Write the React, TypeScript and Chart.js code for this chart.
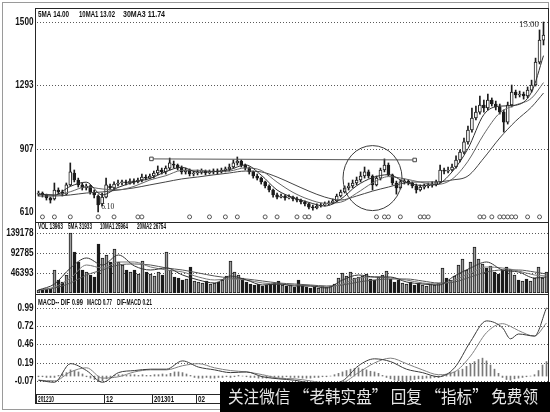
import React, { useEffect, useRef } from 'react';
import { Chart, registerables, LinearScale } from 'chart.js';

Chart.register(...registerables);

// ---------------- data ----------------
const OPEN = [6.94, 6.99, 6.90, 6.76, 6.71, 7.13, 7.04, 6.94, 7.37, 7.93,
  7.60, 7.37, 7.23, 7.32, 7.04, 6.85, 6.48, 6.80, 7.32, 7.23,
  7.41, 7.46, 7.51, 7.46, 7.55, 7.51, 7.60, 7.74, 7.69, 7.79,
  7.93, 8.07, 7.98, 8.16, 8.35, 8.30, 8.16, 7.98, 8.07, 7.88,
  7.93, 7.98, 8.02, 7.93, 7.98, 8.02, 7.98, 8.07, 8.12, 8.21,
  8.40, 8.49, 8.30, 8.16, 7.98, 7.79, 7.69, 7.51, 7.32, 7.13,
  6.90, 6.80, 6.85, 6.76, 6.80, 6.71, 6.66, 6.57, 6.48, 6.33,
  6.29, 6.38, 6.43, 6.48, 6.52, 6.62, 6.85, 7.04, 7.23, 7.32,
  7.46, 7.60, 7.79, 7.98, 7.79, 7.37, 7.69, 8.07, 8.30, 7.84,
  7.46, 7.23, 7.51, 7.55, 7.46, 7.32, 7.13, 7.27, 7.32, 7.37,
  7.41, 7.51, 8.07, 8.02, 8.07, 8.21, 8.54, 8.91, 9.48, 10.21,
  10.94, 11.30, 11.73, 11.55, 12.03, 11.79, 11.61, 11.30, 10.69, 11.73,
  12.52, 12.34, 12.40, 12.28, 12.64, 12.94, 13.69, 14.41];
const CLOSE = [6.99, 6.90, 6.76, 6.66, 7.13, 7.04, 6.94, 7.37, 7.98, 7.60,
  7.37, 7.23, 7.32, 7.04, 6.90, 6.43, 6.80, 7.37, 7.23, 7.41,
  7.46, 7.51, 7.46, 7.55, 7.51, 7.60, 7.74, 7.69, 7.79, 7.93,
  8.07, 7.98, 8.16, 8.40, 8.30, 8.16, 7.98, 8.07, 7.88, 7.93,
  7.98, 8.02, 7.93, 7.98, 8.02, 7.98, 8.07, 8.12, 8.21, 8.40,
  8.49, 8.30, 8.16, 7.98, 7.79, 7.69, 7.51, 7.32, 7.13, 6.90,
  6.80, 6.85, 6.76, 6.80, 6.71, 6.66, 6.57, 6.48, 6.33, 6.29,
  6.38, 6.43, 6.48, 6.52, 6.62, 6.85, 7.04, 7.23, 7.32, 7.46,
  7.60, 7.79, 7.98, 7.79, 7.37, 7.69, 8.07, 8.30, 7.84, 7.46,
  7.23, 7.51, 7.55, 7.46, 7.32, 7.13, 7.27, 7.32, 7.37, 7.41,
  7.51, 8.07, 8.02, 8.07, 8.21, 8.54, 8.91, 9.48, 10.21, 10.94,
  11.30, 11.73, 11.55, 12.03, 11.79, 11.61, 11.30, 10.69, 11.73, 12.52,
  12.34, 12.40, 12.28, 12.64, 12.94, 13.69, 14.41, 14.57];
const HIGH = [7.08, 7.04, 6.94, 6.80, 7.46, 7.23, 7.13, 7.46, 8.40, 8.07,
  7.69, 7.46, 7.41, 7.37, 7.13, 6.90, 6.99, 7.69, 7.41, 7.51,
  7.60, 7.60, 7.60, 7.65, 7.65, 7.69, 7.88, 7.84, 7.88, 8.02,
  8.26, 8.16, 8.26, 8.63, 8.49, 8.35, 8.26, 8.16, 8.12, 8.02,
  8.07, 8.12, 8.07, 8.07, 8.12, 8.12, 8.16, 8.21, 8.35, 8.54,
  8.68, 8.54, 8.35, 8.21, 8.02, 7.88, 7.74, 7.55, 7.37, 7.18,
  6.99, 6.94, 6.90, 6.90, 6.85, 6.80, 6.71, 6.62, 6.52, 6.43,
  6.48, 6.52, 6.57, 6.62, 6.71, 6.94, 7.13, 7.32, 7.46, 7.60,
  7.74, 7.98, 8.21, 8.07, 7.84, 7.79, 8.16, 8.59, 8.40, 7.88,
  7.55, 7.60, 7.65, 7.60, 7.51, 7.41, 7.37, 7.41, 7.46, 7.51,
  7.60, 8.30, 8.16, 8.21, 8.35, 8.73, 9.01, 9.72, 10.45, 11.55,
  11.67, 12.28, 12.03, 12.40, 12.16, 11.97, 11.79, 11.43, 11.91, 12.94,
  12.64, 12.58, 12.52, 12.83, 13.10, 13.82, 14.74, 15.00];
const LOW = [6.85, 6.80, 6.66, 6.52, 6.66, 6.94, 6.85, 6.90, 7.32, 7.51,
  7.27, 7.13, 7.13, 6.94, 6.76, 6.10, 6.38, 6.76, 7.13, 7.13,
  7.32, 7.37, 7.37, 7.41, 7.41, 7.46, 7.51, 7.60, 7.65, 7.69,
  7.84, 7.88, 7.88, 8.07, 8.16, 8.07, 7.88, 7.88, 7.79, 7.79,
  7.84, 7.88, 7.84, 7.88, 7.88, 7.88, 7.93, 7.98, 8.02, 8.16,
  8.30, 8.21, 8.07, 7.88, 7.69, 7.60, 7.41, 7.23, 7.04, 6.80,
  6.71, 6.76, 6.66, 6.71, 6.62, 6.57, 6.48, 6.38, 6.24, 6.19,
  6.24, 6.33, 6.38, 6.43, 6.48, 6.57, 6.80, 6.99, 7.13, 7.23,
  7.37, 7.51, 7.69, 7.69, 7.13, 7.32, 7.60, 7.98, 7.79, 7.37,
  6.94, 7.18, 7.41, 7.37, 7.23, 6.99, 7.08, 7.18, 7.23, 7.27,
  7.32, 7.46, 7.88, 7.93, 8.02, 8.16, 8.45, 8.82, 9.35, 10.08,
  10.82, 11.18, 11.30, 11.43, 11.67, 11.43, 11.18, 10.08, 10.57, 11.61,
  12.16, 12.22, 12.09, 12.16, 12.52, 12.89, 13.63, 14.25];
const VOLUME = [6960, 6960, 9280, 9280, 53360, 30160, 25520, 41760, 139200, 95120,
  71920, 53360, 48720, 41760, 37120, 113680, 81200, 88160, 71920, 102080,
  71920, 64960, 53360, 48720, 53360, 44080, 74240, 48720, 44080, 39440,
  48720, 41760, 95120, 53360, 37120, 34800, 30160, 32480, 60320, 27840,
  25520, 23200, 27840, 20880, 23200, 25520, 30160, 39440, 74240, 48720,
  41760, 34800, 25520, 20880, 18560, 20880, 16240, 18560, 20880, 23200,
  27840, 18560, 16240, 18560, 13920, 30160, 16240, 13920, 11600, 13920,
  11600, 16240, 13920, 16240, 20880, 34800, 46400, 39440, 48720, 34800,
  37120, 39440, 44080, 32480, 30160, 37120, 41760, 51040, 32480, 25520,
  30160, 23200, 20880, 25520, 18560, 23200, 18560, 16240, 20880, 18560,
  23200, 58000, 34800, 30160, 39440, 64960, 78880, 53360, 71920, 106720,
  78880, 67280, 58000, 62640, 48720, 44080, 53360, 60320, 55680, 41760,
  30160, 27840, 32480, 27840, 34800, 60320, 34800, 48720];
const MACD_HIST = [-0.01, -0.01, -0.02, -0.02, -0.02, 0.01, 0.03, 0.05,
  0.09, 0.08, 0.06, 0.03, -0.01, -0.03, -0.05, -0.08,
  -0.07, -0.04, -0.02, 0.01, 0.02, 0.02, 0.01, 0.02,
  0.02, 0.01, 0.02, 0.01, 0.01, 0.02, 0.02, 0.03,
  0.02, 0.04, 0.06, 0.06, 0.05, 0.03, 0.01, -0.02,
  -0.03, -0.03, -0.02, -0.03, -0.03, -0.02, -0.02, -0.01,
  -0.02, -0.01, 0.01, 0.00, -0.01, -0.02, -0.02, -0.03,
  -0.03, -0.03, -0.02, -0.02, -0.02, -0.02, -0.01, -0.02,
  -0.02, -0.02, -0.03, -0.03, -0.03, -0.02, -0.02, -0.01,
  -0.01, 0.00, 0.02, 0.04, 0.06, 0.08, 0.10, 0.11,
  0.12, 0.10, 0.09, 0.07, 0.06, 0.04, 0.01, -0.02,
  -0.04, -0.06, -0.07, -0.08, -0.07, -0.06, -0.05, -0.04,
  -0.04, -0.03, -0.03, -0.02, -0.02, 0.01, 0.03, 0.05,
  0.06, 0.08, 0.10, 0.14, 0.18, 0.21, 0.24, 0.26,
  0.22, 0.16, 0.10, 0.04, -0.02, -0.05, -0.06, -0.04,
  -0.03, -0.02, -0.01, 0.00, 0.02, 0.08, 0.16, 0.21];

// moving-average lines, read at these candle positions
const MA_IDX = [0, 4, 8, 12, 16, 20, 24, 28, 32, 36, 40, 44, 48, 52, 56, 60, 64, 68, 72, 76, 80, 84, 88, 92, 96, 100, 104, 108, 112, 116, 120, 124, 127];
const MA5 = [6.94, 6.89, 7.30, 7.50, 6.90, 7.25, 7.50, 7.67, 7.99, 8.20, 7.97, 7.99, 8.08, 8.31, 7.83, 7.13, 6.78, 6.55, 6.38, 6.70, 7.33, 7.71, 7.85, 7.52, 7.35, 7.38, 7.98, 9.07, 11.15, 11.66, 11.72, 12.52, 13.90];
const MA10 = [6.94, 6.90, 7.05, 7.28, 7.18, 7.14, 7.30, 7.60, 7.80, 8.05, 8.06, 8.00, 8.02, 8.17, 8.05, 7.50, 7.02, 6.69, 6.51, 6.56, 6.98, 7.46, 7.76, 7.66, 7.50, 7.39, 7.64, 8.48, 9.95, 11.25, 11.73, 12.15, 13.02];
const MA30 = [6.85, 6.85, 6.90, 6.99, 7.04, 7.13, 7.23, 7.37, 7.51, 7.65, 7.74, 7.84, 7.93, 8.02, 7.98, 7.74, 7.41, 7.08, 6.80, 6.66, 6.85, 7.08, 7.27, 7.46, 7.51, 7.51, 7.60, 7.79, 8.63, 9.72, 10.75, 11.61, 12.46];
const VOL_MA5 = [6960, 20880, 58000, 81200, 64960, 88160, 62640, 53360, 58000, 41760, 30160, 23200, 39440, 30160, 18560, 20880, 16240, 16240, 11600, 30160, 41760, 37120, 37120, 25520, 20880, 18560, 39440, 58000, 71920, 53360, 48720, 34800, 37120];
const VOL_MA10 = [6960, 13920, 34800, 64960, 58000, 71920, 71920, 60320, 53360, 48720, 37120, 30160, 32480, 30160, 23200, 20880, 18560, 16240, 13920, 20880, 34800, 37120, 34800, 30160, 23200, 20880, 30160, 46400, 60320, 58000, 51040, 41760, 39440];
const VOL_MA20 = [6960, 11600, 23200, 41760, 53360, 64960, 67280, 64960, 58000, 53360, 46400, 39440, 34800, 32480, 27840, 23200, 20880, 18560, 16240, 18560, 25520, 30160, 32480, 32480, 27840, 23200, 25520, 37120, 48720, 53360, 53360, 48720, 44080];
const MACD_IDX = [0, 4, 8, 12, 16, 20, 24, 28, 32, 36, 40, 44, 48, 52, 56, 60, 64, 68, 72, 76, 80, 84, 88, 92, 96, 100, 104, 108, 112, 116, 118, 120, 124, 127];
const DIF = [-0.06, -0.09, 0.18, 0.08, -0.09, 0.05, 0.08, 0.10, 0.10, 0.22, 0.13, 0.09, 0.05, 0.06, -0.01, -0.04, -0.06, -0.10, -0.11, -0.07, 0.15, 0.25, 0.21, 0.10, 0.05, -0.01, 0.12, 0.50, 0.80, 0.70, 0.54, 0.61, 0.58, 0.99];
const DEA = [-0.06, -0.07, 0.06, 0.12, -0.03, -0.01, 0.06, 0.09, 0.09, 0.15, 0.18, 0.12, 0.08, 0.06, 0.02, -0.03, -0.04, -0.07, -0.10, -0.09, 0.05, 0.19, 0.26, 0.18, 0.09, 0.02, 0.06, 0.29, 0.63, 0.76, 0.72, 0.66, 0.58, 0.77];

// signal marks under the candles, trend line, circled zone
const SIGNAL_IDX = [1, 4, 8, 15, 19, 25, 26, 38, 43, 47, 50, 57, 60, 65, 67, 68, 73, 85, 87, 88, 91, 96, 97, 98, 111, 112, 114, 116, 117, 118, 119, 120, 123, 126];
const TREND_IDX = [28.4, 94.6];
const TREND_PRICE = [8.59, 8.54];
const CIRCLE_IDX = 84;
const CIRCLE_PRICE = 7.69;

// axes
const PRICE_TICKS = [6.10, 9.07, 12.93, 15.00];
const PRICE_TICK_LABELS = ['610', '907', '1293', '1500'];
const VOL_TICKS = [46393, 92785, 139178];
const VOL_TICK_LABELS = ['46393', '92785', '139178'];
const MACD_TICKS = [-0.07, 0.19, 0.46, 0.72, 0.99];
const MACD_TICK_LABELS = ['-0.07', '0.19', '0.46', '0.72', '0.99'];
const DATE_TICK_IDX = [0, 17, 29, 40];
const DATE_TICK_LABELS = ['201210', '12', '201301', '02'];

const PRICE_HEADER = ['5MA 14.00', '10MA1 13.02', '30MA3 11.74'];
const VOL_HEADER = ['VOL 13963', '5MA 31933', '10MA1 25964', '20MA2 26754'];
const MACD_HEADER = ['MACD-- DIF 0.99', 'MACD 0.77', 'DIF-MACD 0.21'];
const WATERMARK = '关注微信 “老韩实盘” 回复 “指标” 免费领';

// ---------------- layout / style ----------------
const W = 550;
const H = 412;
const PLOT_L = 36;
const PLOT_R = 548;
const PRICE_AREA = { top: 8, bottom: 222 };
const VOL_AREA = { top: 222, bottom: 293 };
const MACD_AREA = { top: 294, bottom: 394 };
const X_MIN = -0.625;
const X_MAX = CLOSE.length - 0.625;
const SIGNAL_PRICE = 5.87;
const PRICE_TICK_BASE = 10 / 214;
const PRICE_TICK_STEP = (190 / 3) / 214;

const INK = '#1c1c1c';
const TICK_FONT = 'bold 10.5px "Liberation Sans", Arial, sans-serif';
const HEAD_FONT = 'bold 9.5px "Liberation Sans", Arial, sans-serif';
const NOTE_FONT = '9px "Liberation Serif", serif';

// price axis: the software spaces its tick values evenly on screen
class StepPriceScale extends LinearScale {
  static id = 'stepPrice';
  static defaults = {};
  toDecimal(v: number) {
    const k = PRICE_TICKS;
    const n = k.length;
    let i = 0;
    if (v >= k[n - 1]) i = n - 2;
    else {
      while (i < n - 2 && v > k[i + 1]) i++;
    }
    const t = (v - k[i]) / (k[i + 1] - k[i]);
    return PRICE_TICK_BASE + (i + t) * PRICE_TICK_STEP;
  }
  getPixelForValue(value: any) {
    if (value === null || value === undefined || Number.isNaN(value)) return NaN;
    return this.getPixelForDecimal(this.toDecimal(value));
  }
  getValueForPixel(pixel: number) {
    const k = PRICE_TICKS;
    const n = k.length;
    const pos = (this.getDecimalForPixel(pixel) - PRICE_TICK_BASE) / PRICE_TICK_STEP;
    const i = Math.max(0, Math.min(n - 2, Math.floor(pos)));
    return k[i] + (pos - i) * (k[i + 1] - k[i]);
  }
}
Chart.register(StepPriceScale);

function fitText(ctx: CanvasRenderingContext2D, text: string, x: number, y: number, width: number, font: string, color: string) {
  ctx.save();
  ctx.font = font;
  ctx.fillStyle = color;
  ctx.textBaseline = 'middle';
  ctx.textAlign = 'left';
  const w = ctx.measureText(text).width || 1;
  ctx.translate(x, y);
  ctx.scale(width / w, 1);
  ctx.fillText(text, 0, 0);
  ctx.restore();
}

function rightText(ctx: CanvasRenderingContext2D, text: string, x: number, y: number, font: string, color: string, sx: number) {
  ctx.save();
  ctx.font = font;
  ctx.fillStyle = color;
  ctx.textBaseline = 'middle';
  ctx.textAlign = 'right';
  ctx.translate(x, y);
  ctx.scale(sx, 1);
  ctx.fillText(text, 0, 0);
  ctx.restore();
}

function dottedGrid(chart: any, ticks: number[], skip: number[]) {
  const { ctx } = chart;
  const ys = chart.scales.y;
  ctx.save();
  ctx.strokeStyle = '#5a5a5a';
  ctx.lineWidth = 1;
  ctx.setLineDash([1, 2]);
  ticks.forEach((v, i) => {
    if (skip.includes(i)) return;
    const py = Math.round(ys.getPixelForValue(v)) + 0.5;
    ctx.beginPath();
    ctx.moveTo(PLOT_L + 1, py);
    ctx.lineTo(PLOT_R, py);
    ctx.stroke();
  });
  ctx.restore();
}

function tickLabels(chart: any, ticks: number[], labels: string[]) {
  const ys = chart.scales.y;
  ticks.forEach((v, i) => rightText(chart.ctx, labels[i], 33.5, ys.getPixelForValue(v), TICK_FONT, '#111', 0.78));
}

function headers(ctx: CanvasRenderingContext2D, texts: string[], spans: number[][], y: number) {
  texts.forEach((t, i) => fitText(ctx, t, spans[i][0], y, spans[i][1], HEAD_FONT, '#111'));
}

function baseOptions(area: { top: number; bottom: number }, yScale: any) {
  return {
    responsive: false,
    animation: false,
    devicePixelRatio: 1,
    events: [],
    layout: { padding: { left: PLOT_L, right: W - PLOT_R, top: area.top, bottom: H - area.bottom } },
    plugins: { legend: { display: false }, tooltip: { enabled: false } },
    scales: {
      x: { type: 'linear', min: X_MIN, max: X_MAX, offset: false, display: false },
      y: { ...yScale, display: false },
    },
  };
}

const lineStyle = (color: string) => ({
  type: 'line',
  borderColor: color,
  borderWidth: 1,
  pointRadius: 0,
  cubicInterpolationMode: 'monotone',
  fill: false,
  order: 0,
});

const IDX = CLOSE.map((_, i) => i);
const isUp = (i: number) => CLOSE[i] >= OPEN[i];

function priceConfig(): any {
  const plugin = {
    id: 'pricePanel',
    beforeDatasetsDraw(chart: any) {
      dottedGrid(chart, PRICE_TICKS, [0]);
      tickLabels(chart, PRICE_TICKS, PRICE_TICK_LABELS);
      headers(chart.ctx, PRICE_HEADER, [[38, 31], [79, 36], [123, 42]], 14);
    },
    afterDatasetsDraw(chart: any) {
      const { ctx } = chart;
      const xs = chart.scales.x;
      const ys = chart.scales.y;
      ctx.save();
      ctx.strokeStyle = '#3a3a3a';
      ctx.lineWidth = 1;
      ctx.beginPath();
      ctx.ellipse(xs.getPixelForValue(CIRCLE_IDX), ys.getPixelForValue(CIRCLE_PRICE), 29.5, 32.5, 0, 0, Math.PI * 2);
      ctx.stroke();
      ctx.restore();
      let lo = 0;
      let hi = 0;
      LOW.forEach((v, i) => { if (v < LOW[lo]) lo = i; });
      HIGH.forEach((v, i) => { if (v > HIGH[hi]) hi = i; });
      fitText(ctx, LOW[lo].toFixed(2), xs.getPixelForValue(lo) + 3, ys.getPixelForValue(LOW[lo]) - 5, 13, NOTE_FONT, '#222');
      fitText(ctx, HIGH[hi].toFixed(2), xs.getPixelForValue(hi) - 24.5, ys.getPixelForValue(HIGH[hi]) + 3, 20, NOTE_FONT, '#222');
    },
  };
  return {
    type: 'bar',
    data: {
      datasets: [
        { ...lineStyle('#2e2e2e'), data: MA_IDX.map((x, k) => ({ x, y: MA5[k] })) },
        { ...lineStyle('#666'), data: MA_IDX.map((x, k) => ({ x, y: MA10[k] })) },
        { ...lineStyle('#444'), data: MA_IDX.map((x, k) => ({ x, y: MA30[k] })) },
        {
          type: 'line', data: TREND_IDX.map((x, k) => ({ x, y: TREND_PRICE[k] })),
          borderColor: '#555', borderWidth: 1, pointStyle: 'rect', pointRadius: 2.5,
          pointBackgroundColor: '#fff', pointBorderColor: '#444', pointBorderWidth: 1, order: 0,
        },
        {
          type: 'line', data: SIGNAL_IDX.map((x) => ({ x, y: SIGNAL_PRICE })), showLine: false,
          pointRadius: 2, pointBackgroundColor: '#fff', pointBorderColor: '#555', pointBorderWidth: 1, order: 0,
        },
        {
          type: 'bar', data: IDX.map((i) => ({ x: i, y: [OPEN[i], CLOSE[i]] })), grouped: false,
          barThickness: 3, minBarLength: 1, borderWidth: 1, borderSkipped: false, borderColor: INK,
          backgroundColor: (c: any) => (isUp(c.dataIndex) ? '#ffffff' : INK), order: 1,
        },
        {
          type: 'bar', data: IDX.map((i) => ({ x: i, y: [LOW[i], HIGH[i]] })), grouped: false,
          barThickness: 1, borderWidth: 0, backgroundColor: INK, order: 2,
        },
      ],
    },
    options: baseOptions(PRICE_AREA, { type: 'stepPrice', min: 5.6, max: 15.5, beginAtZero: false }),
    plugins: [plugin],
  };
}

function volConfig(): any {
  const plugin = {
    id: 'volPanel',
    beforeDatasetsDraw(chart: any) {
      dottedGrid(chart, VOL_TICKS, []);
      tickLabels(chart, VOL_TICKS, VOL_TICK_LABELS);
      headers(chart.ctx, VOL_HEADER, [[38, 25], [68, 24], [100, 28], [137, 29]], 226.5);
    },
  };
  return {
    type: 'bar',
    data: {
      datasets: [
        { ...lineStyle('#333'), data: MA_IDX.map((x, k) => ({ x, y: VOL_MA5[k] })) },
        { ...lineStyle('#777'), data: MA_IDX.map((x, k) => ({ x, y: VOL_MA10[k] })) },
        { ...lineStyle('#555'), data: MA_IDX.map((x, k) => ({ x, y: VOL_MA20[k] })) },
        {
          type: 'bar', data: IDX.map((i) => ({ x: i, y: VOLUME[i] })), grouped: false,
          barThickness: 3, borderWidth: 1, borderSkipped: false, borderColor: INK,
          backgroundColor: (c: any) => (isUp(c.dataIndex) ? '#9c9c9c' : INK), order: 1,
        },
      ],
    },
    options: baseOptions(VOL_AREA, { type: 'linear', min: 0, max: 164700 }),
    plugins: [plugin],
  };
}

function macdConfig(): any {
  const plugin = {
    id: 'macdPanel',
    beforeDatasetsDraw(chart: any) {
      dottedGrid(chart, MACD_TICKS, []);
      tickLabels(chart, MACD_TICKS, MACD_TICK_LABELS);
      headers(chart.ctx, MACD_HEADER, [[38, 45], [87, 25], [117, 35]], 302);
    },
    afterDraw(chart: any) {
      const { ctx } = chart;
      const xs = chart.scales.x;
      ctx.save();
      ctx.lineWidth = 1;
      ctx.strokeStyle = '#9a9a9a';
      ctx.strokeRect(2.5, 2.5, 546, 407);
      ctx.strokeStyle = '#262626';
      ctx.beginPath();
      [8.5, 222.5, 294.5, 394.5].forEach((y) => {
        ctx.moveTo(PLOT_L - 1, y);
        ctx.lineTo(PLOT_R + 1, y);
      });
      ctx.moveTo(PLOT_L - 0.5, 8.5);
      ctx.lineTo(PLOT_L - 0.5, 404);
      ctx.moveTo(PLOT_R + 0.5, 8.5);
      ctx.lineTo(PLOT_R + 0.5, 394.5);
      DATE_TICK_IDX.forEach((idx) => {
        const px = Math.round(xs.getPixelForValue(idx - 0.5)) - 0.5;
        ctx.moveTo(px, 394.5);
        ctx.lineTo(px, 403.5);
      });
      ctx.moveTo(PLOT_L - 1, 403.5);
      ctx.lineTo(PLOT_R + 1, 403.5);
      ctx.stroke();
      ctx.restore();
      const widths = [16, 7, 20, 7];
      DATE_TICK_IDX.forEach((idx, k) => {
        const px = Math.round(xs.getPixelForValue(idx - 0.5));
        fitText(ctx, DATE_TICK_LABELS[k], px + 1, 399, widths[k], HEAD_FONT, '#111');
      });
      // overlay banner that sits on the picture
      ctx.save();
      ctx.fillStyle = '#000';
      ctx.fillRect(220, 382, 330, 30);
      ctx.restore();
      fitText(ctx, WATERMARK, 228, 397, 310, '17px "Noto Sans CJK SC", sans-serif', '#e6e6e6');
    },
  };
  return {
    type: 'bar',
    data: {
      datasets: [
        { ...lineStyle('#3a3a3a'), data: MACD_IDX.map((x, k) => ({ x, y: DIF[k] })) },
        { ...lineStyle('#808080'), data: MACD_IDX.map((x, k) => ({ x, y: DEA[k] })) },
        {
          type: 'bar', data: IDX.map((i) => ({ x: i, y: MACD_HIST[i] })), grouped: false,
          barThickness: 1, borderWidth: 0, backgroundColor: '#7a7a7a', order: 2,
        },
      ],
    },
    options: baseOptions(MACD_AREA, { type: 'linear', min: -0.26, max: 1.19 }),
    plugins: [plugin],
  };
}

export default function App() {
  const priceRef = useRef<HTMLCanvasElement>(null);
  const volRef = useRef<HTMLCanvasElement>(null);
  const macdRef = useRef<HTMLCanvasElement>(null);

  useEffect(() => {
    const charts = [
      new Chart(priceRef.current as HTMLCanvasElement, priceConfig()),
      new Chart(volRef.current as HTMLCanvasElement, volConfig()),
      new Chart(macdRef.current as HTMLCanvasElement, macdConfig()),
    ];
    return () => charts.forEach((c) => c.destroy());
  }, []);

  const canvasStyle: React.CSSProperties = { position: 'absolute', left: 0, top: 0, width: W, height: H };
  return (
    <div style={{ position: 'fixed', left: 0, top: 0, width: W, height: H, background: '#fff', overflow: 'hidden' }}>
      <canvas ref={priceRef} width={W} height={H} style={canvasStyle} />
      <canvas ref={volRef} width={W} height={H} style={canvasStyle} />
      <canvas ref={macdRef} width={W} height={H} style={canvasStyle} />
    </div>
  );
}
